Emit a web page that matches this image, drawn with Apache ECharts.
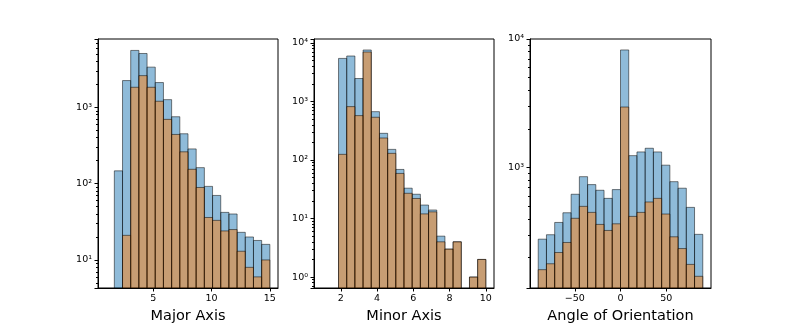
<!DOCTYPE html>
<html>
<head>
<meta charset="utf-8">
<script src="https://cdn.jsdelivr.net/npm/echarts@6/dist/echarts.min.js"></script>
<style>
  html, body { margin: 0; padding: 0; background: #fff; }
  #chart { width: 790px; height: 329px; }
</style>
</head>
<body>
<div id="chart"></div>
<script>
// histogram data, 20 equal bins per panel
const majorRange = [0.95, 15];
const majorBlue = [0, 147, 2240, 5560, 5070, 3360, 2110, 1260, 752, 450, 285, 162, 92, 70, 42, 40, 23, 20, 18, 16];
const majorOrange = [0, 0, 21, 1830, 2600, 1830, 1200, 695, 441, 261, 154, 89, 36, 33, 24, 25, 13, 8, 6, 10];

const minorRange = [0.976, 10];
const minorBlue = [0, 0, 5450, 5990, 2470, 7590, 671, 286, 152, 69, 33, 26, 17, 14, 5, 3, 4, 0, 1, 2];
const minorOrange = [0, 0, 125, 818, 574, 7010, 538, 238, 130, 59, 27, 22, 12, 13, 4, 3, 4, 0, 1, 2];

const angleRange = [-90, 90];
const angleBlue = [278, 301, 375, 446, 621, 851, 738, 667, 577, 675, 8220, 1240, 1325, 1415, 1325, 1045, 778, 692, 491, 303];
const angleOrange = [161, 179, 219, 262, 404, 500, 449, 362, 325, 366, 2960, 418, 449, 541, 577, 436, 290, 235, 177, 143];

const titles = ['Major Axis', 'Minor Axis', 'Angle of Orientation'];
const xTicks = [[5, 10, 15], [2, 4, 6, 8, 10], [-50, 0, 50]];

let chart = echarts.init(document.getElementById('chart'), null, { renderer: 'canvas' });

const sup = { '0': '\u2070', '1': '\u00b9', '2': '\u00b2', '3': '\u00b3', '4': '\u2074' };
function logLabel(v) {
  let e = Math.round(Math.log10(v));
  if (Math.abs(Math.pow(10, e) - v) > 1e-6 * v) return '';
  return '10' + String(e).split('').map(function (c) { return sup[c] || c; }).join('');
}

// turn range + counts into [left, right, count]
function bins(range, counts) {
  let w = (range[1] - range[0]) / counts.length;
  let out = [];
  counts.forEach(function (c, i) {
    if (c > 0) out.push([range[0] + i * w, range[0] + (i + 1) * w, c]);
  });
  return out;
}

function renderBar(params, api) {
  let top = api.coord([api.value(0), api.value(2)]);
  let right = api.coord([api.value(1), api.value(2)]);
  let cs = params.coordSys;
  let bottom = cs.y + cs.height;
  return {
    type: 'rect',
    shape: { x: top[0], y: top[1], width: right[0] - top[0], height: bottom - top[1] },
    style: api.style()
  };
}

const grids = [
  { left: 98, top: 39, width: 180, height: 249 },
  { left: 314, top: 39, width: 180, height: 249 },
  { left: 530, top: 39, width: 181, height: 249 }
];
const xLims = [[0.25, 15.7], [0.525, 10.45], [-99, 99]];
const yLims = [[4.29, 7850], [0.65, 11700], [116, 10000]];
const blues = [majorBlue, minorBlue, angleBlue];
const oranges = [majorOrange, minorOrange, angleOrange];
const ranges = [majorRange, minorRange, angleRange];

let option = {
  backgroundColor: '#fff',
  animation: false,
  grid: grids.map(function (g) {
    return Object.assign({ show: true, borderColor: '#000', borderWidth: 1, backgroundColor: 'transparent' }, g);
  }),
  xAxis: grids.map(function (g, i) {
    return {
      type: 'value', gridIndex: i, min: xLims[i][0], max: xLims[i][1],
      name: titles[i], nameLocation: 'middle', nameGap: 17,
      nameTextStyle: { fontSize: 14.5, color: '#000', fontFamily: 'DejaVu Sans' },
      axisLine: { onZero: false, lineStyle: { color: '#000', width: 1 } },
      axisTick: { customValues: xTicks[i], length: 3.5, lineStyle: { color: '#000' } },
      axisLabel: { customValues: xTicks[i], margin: 6, fontSize: 9.5, color: '#000', fontFamily: 'DejaVu Sans',
        formatter: function (v) { return String(v).replace('-', '\u2212'); } },
      splitLine: { show: false }
    };
  }),
  yAxis: grids.map(function (g, i) {
    return {
      type: 'log', logBase: 10, gridIndex: i, min: yLims[i][0], max: yLims[i][1],
      axisLine: { onZero: false, lineStyle: { color: '#000', width: 1 } },
      axisTick: { length: 3.5, lineStyle: { color: '#000' } },
      minorTick: { show: true, splitNumber: 9, length: 2, lineStyle: { color: '#000' } },
      axisLabel: { margin: 6, fontSize: 9.5, color: '#000', fontFamily: 'DejaVu Sans', formatter: logLabel },
      splitLine: { show: false }
    };
  }),
  series: []
};

for (let i = 0; i < 3; i++) {
  option.series.push({
    type: 'custom', xAxisIndex: i, yAxisIndex: i,
    renderItem: renderBar,
    encode: { x: [0, 1], y: 2 },
    itemStyle: { color: 'rgba(31,119,180,0.5)', borderColor: 'rgba(0,0,0,0.5)', borderWidth: 1 },
    data: bins(ranges[i], blues[i])
  });
  option.series.push({
    type: 'custom', xAxisIndex: i, yAxisIndex: i,
    renderItem: renderBar,
    encode: { x: [0, 1], y: 2 },
    itemStyle: { color: 'rgba(255,127,14,0.5)', borderColor: 'rgba(0,0,0,0.5)', borderWidth: 1 },
    data: bins(ranges[i], oranges[i])
  });
}

chart.setOption(option);
</script>
</body>
</html>
